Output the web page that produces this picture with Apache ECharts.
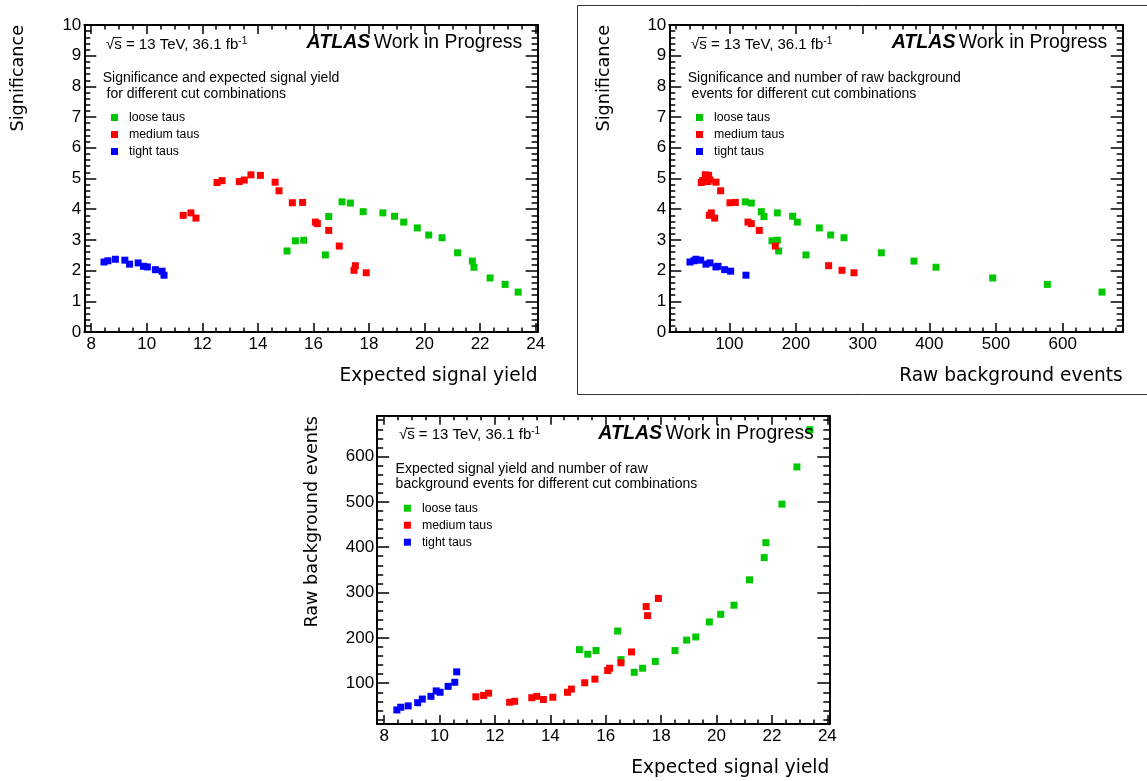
<!DOCTYPE html>
<html><head><meta charset="utf-8">
<script src="https://cdn.jsdelivr.net/npm/echarts@6/dist/echarts.min.js"></script>
<style>html,body{margin:0;padding:0;background:#fff}#c{width:1147px;height:781px}</style>
</head><body><div id="c"></div>
<script>
// ---------------- data (one entry per cut combination) ----------------
const seriesNames = ['loose taus', 'medium taus', 'tight taus'];
const seriesColors = ['#00c800', '#ff0000', '#0000ff'];

const looseSignal = [15.05,15.35,15.65,16.43,16.55,17.03,17.33,17.79,18.50,18.92,19.25,19.74,20.15,20.63,21.19,21.72,21.78,22.36,22.90,23.37];
const looseSignif = [2.64,2.97,2.99,2.51,3.76,4.24,4.20,3.92,3.88,3.77,3.58,3.39,3.16,3.07,2.58,2.31,2.11,1.76,1.55,1.30];
const looseBkg    = [174,164,172,215,152,124,133,148,172,195,202,235,252,272,328,377,410,495,577,659];

const mediumSignal = [11.31,11.59,11.77,12.53,12.71,13.33,13.51,13.75,14.09,14.62,14.76,15.24,15.61,16.07,16.14,16.55,16.93,17.46,17.51,17.90];
const mediumSignif = [3.80,3.88,3.71,4.87,4.93,4.90,4.95,5.12,5.10,4.88,4.60,4.21,4.22,3.58,3.53,3.31,2.80,2.01,2.16,1.93];
const mediumBkg    = [70,73,78,58,60,68,71,64,69,80,87,101,109,128,133,145,169,269,249,287];

const tightSignal = [8.46,8.60,8.87,9.21,9.38,9.69,9.88,10.02,10.31,10.55,10.62];
const tightSignif = [2.28,2.32,2.37,2.34,2.21,2.25,2.14,2.12,2.03,1.98,1.85];
const tightBkg    = [41,47,50,57,65,71,83,80,93,102,125];

// tick labels
const signifTicks = [0,1,2,3,4,5,6,7,8,9,10];
const yieldTicks  = [8,10,12,14,16,18,20,22,24];
const bkgTicks    = [100,200,300,400,500,600];

// axis ranges and minor tick steps
const signifRange = [0, 10];
const yieldRange  = [7.75, 24.07];
const bkgRange    = [10, 690];
const signifMinor = 0.2, yieldMinor = 0.5, bkgMinor = 20;

// texts
const energyText = '√s = 13 TeV, 36.1 fb';
const descTexts = [
  ['Significance and expected signal yield', ' for different cut combinations'],
  ['Significance and number of raw background', ' events for different cut combinations'],
  ['Expected signal yield and number of raw', 'background events for different cut combinations']
];
const xTitles = ['Expected signal yield', 'Raw background events', 'Expected signal yield'];
const yTitles = ['Significance', 'Significance', 'Raw background events'];

// ---------------- layout ----------------
const frames = [
  {left: 84.3, top: 25, right: 537.6, bottom: 332},
  {left: 669.3, top: 25, right: 1122.7, bottom: 332},
  {left: 377.2, top: 415.7, right: 829.3, bottom: 724}
];
const TICKFONT = 'Liberation Sans';
const TITLEFONT = 'DejaVu Sans';

function minorValues(range, step) {
  const out = [];
  for (let k = Math.ceil(range[0] / step - 1e-9); k * step <= range[1] + 1e-9; k++) out.push(+(k * step).toFixed(6));
  return out;
}
function makeAxes(dim, gridIndex, range, majors, minorStep, majorLen, minorLen, margin) {
  const pos = dim === 'x' ? ['bottom', 'top'] : ['left', 'right'];
  const minors = minorValues(range, minorStep);
  const base = {type: 'value', gridIndex, min: range[0], max: range[1], splitLine: {show: false}, splitArea: {show: false}, silent: true};
  const line = {show: true, onZero: false, lineStyle: {color: '#000', width: 2}};
  const tickStyle = {color: '#000', width: 1.5};
  return [
    Object.assign({}, base, {position: pos[0], axisLine: line,
      axisTick: {show: true, inside: true, length: majorLen, customValues: majors, lineStyle: tickStyle},
      axisLabel: {show: true, customValues: majors, margin, fontFamily: TICKFONT, fontSize: 17, color: '#000'}}),
    Object.assign({}, base, {position: pos[0], axisLine: {show: false, onZero: false},
      axisTick: {show: true, inside: true, length: minorLen, customValues: minors, lineStyle: tickStyle},
      axisLabel: {show: false}}),
    Object.assign({}, base, {position: pos[1], axisLine: line,
      axisTick: {show: true, inside: true, length: majorLen, customValues: majors, lineStyle: tickStyle},
      axisLabel: {show: false}}),
    Object.assign({}, base, {position: pos[1], axisLine: {show: false, onZero: false},
      axisTick: {show: true, inside: true, length: minorLen, customValues: minors, lineStyle: tickStyle},
      axisLabel: {show: false}})
  ];
}

const grids = frames.map(f => ({left: f.left, top: f.top, width: f.right - f.left, height: f.bottom - f.top, containLabel: false, outerBoundsMode: 'none'}));

const xAxes = [].concat(
  makeAxes('x', 0, yieldRange, yieldTicks, yieldMinor, 9, 4.5, 4),
  makeAxes('x', 1, bkgRange, bkgTicks, bkgMinor, 9, 4.5, 4),
  makeAxes('x', 2, yieldRange, yieldTicks, yieldMinor, 9, 4.5, 4)
);
const yAxes = [].concat(
  makeAxes('y', 0, signifRange, signifTicks, signifMinor, 12, 6, 3),
  makeAxes('y', 1, signifRange, signifTicks, signifMinor, 12, 6, 3),
  makeAxes('y', 2, bkgRange, bkgTicks, bkgMinor, 12, 6, 3)
);

const sets = [
  {signal: looseSignal, signif: looseSignif, bkg: looseBkg},
  {signal: mediumSignal, signif: mediumSignif, bkg: mediumBkg},
  {signal: tightSignal, signif: tightSignif, bkg: tightBkg}
];
const zip = (a, b) => a.map((v, i) => [v, b[i]]);
const series = [];
const panelPairs = [['signal', 'signif'], ['bkg', 'signif'], ['signal', 'bkg']];
panelPairs.forEach((pair, p) => {
  sets.forEach((s, k) => {
    series.push({
      type: 'scatter', name: seriesNames[k], xAxisIndex: p * 4, yAxisIndex: p * 4,
      symbol: 'rect', symbolSize: 7, itemStyle: {color: seriesColors[k], opacity: 1},
      emphasis: {disabled: true}, z: 2,
      data: zip(s[pair[0]], s[pair[1]])
    });
  });
});

const legends = frames.map((f, p) => ({
  data: seriesNames, orient: 'vertical', left: f.left + 21.7, top: f.top + 81.5,
  itemWidth: 7, itemHeight: 7, itemGap: 5, icon: 'rect', selectedMode: false,
  textStyle: {fontFamily: TICKFONT, fontSize: 12.3, color: '#000', padding: [0, 0, 0, 6]}
}));

const elements = [];
function txt(x, y, style, rotation) {
  const s = Object.assign({fill: '#000'}, style);
  if (s.align) { s.textAlign = s.align; }
  if (s.verticalAlign) { s.textVerticalAlign = s.verticalAlign; }
  elements.push({type: 'text', x, y, rotation: rotation || 0, z: 100, silent: true, style: s});
}
frames.forEach((f, p) => {
  // energy / luminosity
  txt(f.left + 21.7, f.top + 19.5, {
    text: '{a|' + energyText + '}{s|-1}',
    rich: {a: {fontFamily: TICKFONT, fontSize: 15, fill: '#000'}, s: {fontFamily: TICKFONT, fontSize: 10, fill: '#000', verticalAlign: 'top', padding: [0, 0, 7, 0]}},
    align: 'left', verticalAlign: 'middle'
  });
  // overline of the square root
  elements.push({type: 'line', silent: true, z: 100, shape: {x1: f.left + 29.2, y1: f.top + 12.6, x2: f.left + 37.4, y2: f.top + 12.6}, style: {stroke: '#000', lineWidth: 1}});
  // ATLAS label
  txt(f.right - 15.5, f.top + 18, {
    text: '{b|ATLAS} {n|Work in Progress}',
    rich: {b: {fontFamily: TICKFONT, fontSize: 19.6, fontWeight: 'bold', fontStyle: 'italic', fill: '#000'}, n: {fontFamily: TICKFONT, fontSize: 19.4, fill: '#000'}},
    align: 'right', verticalAlign: 'middle'
  });
  // description
  descTexts[p].forEach((line, i) => {
    txt(f.left + 18.4, f.top + 53.3 + i * 15.4, {text: line, fontFamily: TICKFONT, fontSize: 14, align: 'left', verticalAlign: 'middle'});
  });
  // x axis title
  txt(f.right, f.bottom + 44, {text: xTitles[p], fontFamily: TITLEFONT, fontSize: 18.6, align: 'right', verticalAlign: 'middle'});
});
txt(18, 25, {text: yTitles[0], fontFamily: TITLEFONT, fontSize: 17.6, align: 'right', verticalAlign: 'middle'}, Math.PI / 2);
txt(604, 25, {text: yTitles[1], fontFamily: TITLEFONT, fontSize: 17.6, align: 'right', verticalAlign: 'middle'}, Math.PI / 2);
txt(312.7, 416, {text: yTitles[2], fontFamily: TITLEFONT, fontSize: 17.6, align: 'right', verticalAlign: 'middle'}, Math.PI / 2);
// canvas box around the second panel
elements.push({type: 'rect', silent: true, z: 0, shape: {x: 577.5, y: 5.5, width: 580, height: 389}, style: {fill: 'none', stroke: '#333', lineWidth: 1}});

const chart = echarts.init(document.getElementById('c'), null, {renderer: 'canvas'});
chart.setOption({
  backgroundColor: '#fff',
  animation: false,
  grid: grids,
  xAxis: xAxes,
  yAxis: yAxes,
  legend: legends,
  series,
  graphic: {elements}
});
</script></body></html>
